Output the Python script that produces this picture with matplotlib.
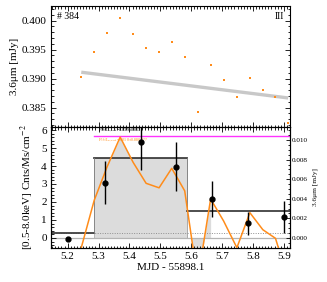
import numpy as np
import matplotlib
matplotlib.use("Agg")
import matplotlib.pyplot as plt
from matplotlib.ticker import MultipleLocator, FormatStrFormatter

plt.rcParams['font.family'] = ['Liberation Serif', 'DejaVu Serif']
plt.rcParams['mathtext.fontset'] = 'stix'

# ---- data ----
ir_time = [5.244, 5.286, 5.328, 5.370, 5.412, 5.454, 5.496, 5.537, 5.579,
           5.621, 5.663, 5.705, 5.748, 5.790, 5.832, 5.873, 5.914]
ir_flux = [0.39024, 0.39460, 0.39783, 0.40047, 0.39771, 0.39529, 0.39455,
           0.39627, 0.39369, 0.38431, 0.39231, 0.38978, 0.38685, 0.39007,
           0.38805, 0.38690, 0.38242]
trend_time = [5.244, 5.914]
trend_flux = [0.39110, 0.38667]
ir_resid = [-0.00100, 0.00385, 0.00729, 0.01030, 0.00772, 0.00558, 0.00512,
            0.00711, 0.00481, -0.00430, 0.00398, 0.00173, -0.00100, 0.00258,
            0.00084, -0.00004, -0.00425]

x_time = [5.202, 5.321, 5.437, 5.551, 5.667, 5.783, 5.899]
x_rate = [-0.07, 3.07, 5.32, 3.96, 2.17, 0.81, 1.18]
x_err = [0.0, 1.2, 1.55, 1.35, 1.0, 0.65, 0.9]

block_edges = [5.10, 5.286, 5.586, 5.95]
block_rate = [0.30, 4.45, 1.48]

ratio_level = 5.67
text_black = r"F$_{3.6}$/L$_{X,peak}$=0.039±0.013"
text_orange = r"F$_{3.6}$/L$_{X,peak}$=0.010±0.880 ???"

# ---- layout ----
W, H = 327, 282
fig = plt.figure(figsize=(W / 100, H / 100), dpi=100)
L, R = 51 / W, 290 / W
ax1 = fig.add_axes([L, 1 - 127 / H, R - L, 121 / H])
ax2 = fig.add_axes([L, 1 - 248 / H, R - L, 121 / H], sharex=ax1)

xlim = (5.146, 5.920)
orange = '#ff8c1a'
fs = 8

# top panel
ax1.plot(trend_time, trend_flux, color='#c8c8c8', lw=2.4, solid_capstyle='butt', zorder=1)
ax1.plot(ir_time, ir_flux, 's', color=orange, ms=2.0, mew=0, zorder=2)
ax1.set_xlim(*xlim)
ax1.set_ylim(0.38167, 0.40250)
ax1.set_ylabel('3.6μm [mJy]', fontsize=fs, labelpad=2)
ax1.yaxis.set_major_locator(MultipleLocator(0.005))
ax1.yaxis.set_minor_locator(MultipleLocator(0.001))
ax1.yaxis.set_major_formatter(FormatStrFormatter('%.3f'))
ax1.text(0.025, 0.95, '# 384', transform=ax1.transAxes, fontsize=7, va='top', ha='left')
ax1.text(0.975, 0.95, 'III', transform=ax1.transAxes, fontsize=7, va='top', ha='right')
plt.setp(ax1.get_xticklabels(), visible=False)

# bottom panel
k = 9800 / 18.0  # left units per mJy
resid_u = np.array(ir_resid) * k
t = np.array(ir_time)

# gray fills
ax2.fill_between([block_edges[1], block_edges[2]], 0, block_rate[1],
                 color='#dcdcdc', edgecolor='#a0a0a0', lw=0.6, zorder=1)
m = (t >= block_edges[1]) & (t <= block_edges[2])
ax2.fill_between(t[m], 0, resid_u[m], color='#dcdcdc', lw=0, zorder=1)
x0 = t[8] + (0 - resid_u[8]) * (t[9] - t[8]) / (resid_u[9] - resid_u[8])
ax2.fill_between([x0, t[9], t[10]], 0, [0, resid_u[9], resid_u[10]],
                 interpolate=True, color='#dcdcdc', lw=0, zorder=1)

ax2.axhline(0, color='#b4b4b4', lw=0.9, zorder=1.5)
ax2.axhline(0.26, color='#909090', lw=0.7, ls=(0, (1, 1.5)), zorder=1.5)

# step blocks
for i in range(3):
    ax2.plot([block_edges[i], block_edges[i + 1]], [block_rate[i]] * 2,
             color='#404040', lw=1.3, zorder=2)
for i in range(1, 3):
    ax2.plot([block_edges[i]] * 2, [block_rate[i - 1], block_rate[i]],
             color='#808080', lw=0.6, zorder=2)

ax2.plot([block_edges[1], xlim[1]], [ratio_level] * 2, color='#ff33ff', lw=1.0, zorder=2)
ax2.text(5.297, ratio_level + 0.08, text_black, fontsize=3, color='black', va='bottom')
ax2.text(5.297, ratio_level - 0.08, text_orange, fontsize=3, color=orange, va='top')

ax2.plot(t, resid_u, color=orange, lw=1.1, zorder=3)
ax2.errorbar(x_time, x_rate, yerr=x_err, fmt='o', color='black', ms=3.5,
             elinewidth=1.0, capsize=0, zorder=4)

ax2.set_xlim(*xlim)
ylo, yhi = -0.56, 6.17
ax2.set_ylim(ylo, yhi)
ax2.set_xlabel('MJD - 55898.1', fontsize=fs, labelpad=1)
ax2.set_ylabel(r'[0.5-8.0keV] Cnts/Ms/cm$^{-2}$', fontsize=fs, labelpad=4)
ax2.yaxis.set_major_locator(MultipleLocator(1))
ax2.yaxis.set_minor_locator(MultipleLocator(0.2))
ax2.xaxis.set_major_locator(MultipleLocator(0.1))
ax2.xaxis.set_minor_locator(MultipleLocator(0.01))

axr = ax2.twinx()
axr.set_ylim(ylo / k, yhi / k)
axr.yaxis.set_major_locator(MultipleLocator(0.002))
axr.yaxis.set_minor_locator(MultipleLocator(0.0005))
axr.yaxis.set_major_formatter(FormatStrFormatter('%.3f'))
axr.tick_params(axis='y', which='both', direction='in', labelsize=5.2, pad=1.5,
                length=3, width=0.6)
axr.tick_params(axis='y', which='minor', length=1.5)
axr.set_ylabel('3.6μm [mJy]', fontsize=5.2, labelpad=3)

for a in (ax1, ax2):
    a.tick_params(which='both', direction='in', top=True, right=(a is ax1),
                  labelsize=fs, width=0.6, pad=3)
    a.tick_params(which='major', length=3.5)
    a.tick_params(which='minor', length=1.8)
    for s in a.spines.values():
        s.set_linewidth(0.8)
ax1.xaxis.set_minor_locator(MultipleLocator(0.01))
ax1.xaxis.set_major_locator(MultipleLocator(0.1))
for s in axr.spines.values():
    s.set_linewidth(0.8)

fig.savefig('out.png', dpi=100)
